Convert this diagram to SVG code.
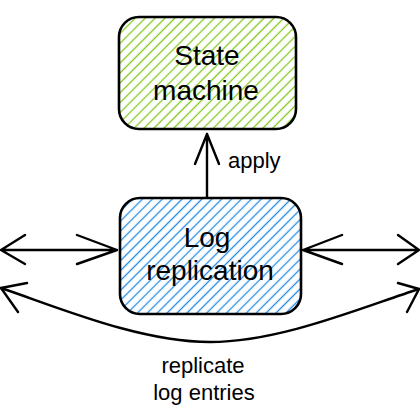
<svg xmlns="http://www.w3.org/2000/svg" width="420" height="420" viewBox="0 0 420 420">
<defs>
<pattern id="hGreen" patternUnits="userSpaceOnUse" width="7" height="7" patternTransform="rotate(45)">
<line x1="3.5" y1="0" x2="3.5" y2="7" stroke="#82c91e" stroke-width="1.3"/>
</pattern>
<pattern id="hBlue" patternUnits="userSpaceOnUse" width="7" height="7" patternTransform="rotate(45)">
<line x1="3.5" y1="0" x2="3.5" y2="7" stroke="#228be6" stroke-width="1.3"/>
</pattern>
<style>
.box{stroke:#000;stroke-width:2.6}
.ln{fill:none;stroke:#000;stroke-width:2.4;stroke-linecap:round;stroke-linejoin:round}
.big{font-family:"Liberation Sans",Arial,sans-serif;font-size:28px;fill:#000;text-anchor:middle}
.sm{font-family:"Liberation Sans",Arial,sans-serif;font-size:22px;fill:#000}
</style>
</defs>
<rect width="420" height="420" fill="#fff"/>
<g id="connectors">
<g id="apply-arrow">
<path class="ln" d="M207,197 L207,134 M195,164 L207,134 L219,164"/>
<text class="sm" x="228" y="168">apply</text>
</g>
<g id="left-arrow">
<path class="ln" d="M1,250 L117,250 M77,235 L117,250 L77,264 M25,235 L1,250 L25,264"/>
</g>
<g id="right-arrow">
<path class="ln" d="M303,250 L419,250 M342,235 L303,250 L342,264 M398,235 L419,250 L398,264"/>
</g>
<g id="replicate-arrow">
<path class="ln" d="M1,288 C60,308 140,342 210,342 C280,342 360,308 419,289"/>
<path class="ln" d="M27,283 L1,288 L18,312 M398,283 L419,289 L407,312"/>
<text class="sm" x="203" y="373" text-anchor="middle">replicate</text>
<text class="sm" x="204" y="400" text-anchor="middle">log entries</text>
</g>
</g>
<g id="state-machine">
<rect class="box" x="119" y="17" width="177" height="112" rx="20" fill="url(#hGreen)"/>
<text class="big" x="207" y="65">State</text>
<text class="big" x="206" y="100">machine</text>
</g>
<g id="log-replication">
<rect class="box" x="120" y="198" width="181" height="116" rx="20" fill="url(#hBlue)"/>
<text class="big" x="207" y="247">Log</text>
<text class="big" x="210" y="280">replication</text>
</g>
</svg>
